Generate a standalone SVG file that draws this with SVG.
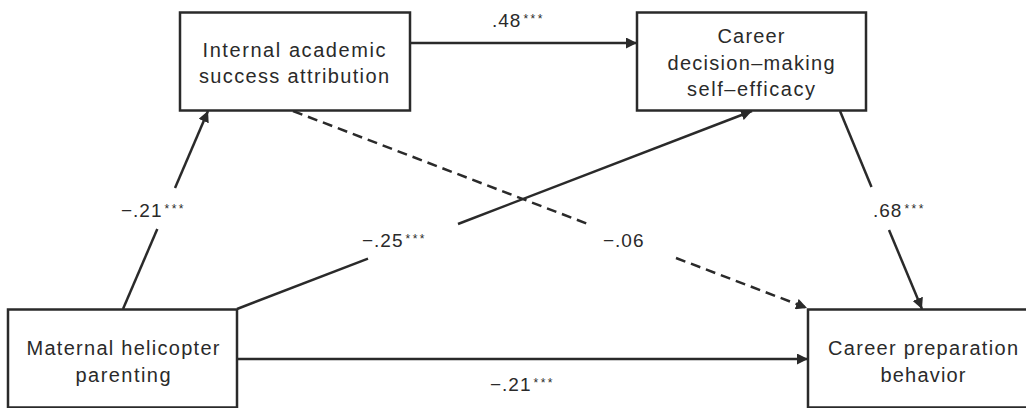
<svg xmlns="http://www.w3.org/2000/svg" width="1026" height="408" viewBox="0 0 1026 408">
<style>
.box{fill:#fff;stroke:#2a2a2a;stroke-width:2.5}
.nt{font-family:"Liberation Sans",Arial,sans-serif;font-size:20px;fill:#2a2a2a;text-anchor:middle}
.lb{font-family:"Liberation Sans",Arial,sans-serif;font-size:19px;fill:#2a2a2a;letter-spacing:1px}
.st{font-size:12px;letter-spacing:2.5px}
.ln{fill:none;stroke:#2a2a2a;stroke-width:2.5}
.ds{stroke-dasharray:10 6}
</style>
<defs>
<marker id="ah" viewBox="0 0 10 10" refX="10" refY="5" markerWidth="11" markerHeight="11" markerUnits="userSpaceOnUse" orient="auto">
<path d="M0,0 L10,5 L0,10 z" fill="#2a2a2a"/>
</marker>
</defs>
<rect width="1026" height="408" fill="#fff"/>
<g id="connectors">
<path class="ln" d="M410,43 L637,43" marker-end="url(#ah)"/>
<path class="ln" d="M123,309 L157.3,229"/>
<path class="ln" d="M175,188 L208,111" marker-end="url(#ah)"/>
<path class="ln" d="M237,309 L368,258.6"/>
<path class="ln" d="M458,224 L752,111" marker-end="url(#ah)"/>
<path class="ln ds" d="M293,111 L588,224"/>
<path class="ln ds" d="M676,258 L807,308" marker-end="url(#ah)"/>
<path class="ln" d="M840,111 L871.5,187"/>
<path class="ln" d="M889,230 L922,309" marker-end="url(#ah)"/>
<path class="ln" d="M237,359 L808,359" marker-end="url(#ah)"/>
</g>
<g id="labels">
<text class="lb" x="492" y="27">.48<tspan class="st" dx="2" dy="-4">***</tspan></text>
<text class="lb" x="121" y="217">−.21<tspan class="st" dx="2" dy="-4">***</tspan></text>
<text class="lb" x="362" y="247">−.25<tspan class="st" dx="2" dy="-4">***</tspan></text>
<text class="lb" x="603" y="247">−.06</text>
<text class="lb" x="873" y="217">.68<tspan class="st" dx="2" dy="-4">***</tspan></text>
<text class="lb" x="490" y="391">−.21<tspan class="st" dx="2" dy="-4">***</tspan></text>
</g>
<g id="node-internal">
<rect class="box" x="180" y="12.5" width="230" height="98"/>
<text class="nt" x="294" y="57" textLength="183" lengthAdjust="spacing">Internal academic</text>
<text class="nt" x="294" y="83" textLength="190" lengthAdjust="spacing">success attribution</text>
</g>
<g id="node-efficacy">
<rect class="box" x="637" y="12.5" width="229" height="98"/>
<text class="nt" x="751" y="43" textLength="67" lengthAdjust="spacing">Career</text>
<text class="nt" x="751" y="69.5" textLength="167" lengthAdjust="spacing">decision–making</text>
<text class="nt" x="751" y="96" textLength="128" lengthAdjust="spacing">self–efficacy</text>
</g>
<g id="node-maternal">
<rect class="box" x="8" y="309.5" width="229" height="98"/>
<text class="nt" x="123" y="355" textLength="193" lengthAdjust="spacing">Maternal helicopter</text>
<text class="nt" x="123" y="382" textLength="95" lengthAdjust="spacing">parenting</text>
</g>
<g id="node-preparation">
<rect class="box" x="808" y="309.5" width="232" height="98"/>
<text class="nt" x="923" y="355" textLength="190" lengthAdjust="spacing">Career preparation</text>
<text class="nt" x="923" y="382" textLength="85" lengthAdjust="spacing">behavior</text>
</g>
</svg>
